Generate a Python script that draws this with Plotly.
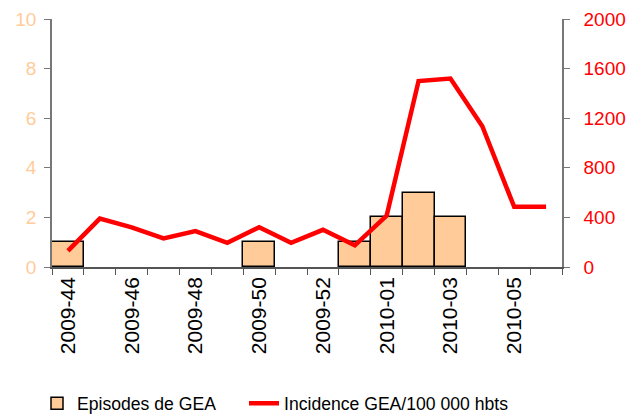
import plotly.graph_objects as go

weeks = ["2009-44", "2009-45", "2009-46", "2009-47", "2009-48", "2009-49", "2009-50",
         "2009-51", "2009-52", "2009-53", "2010-01", "2010-02", "2010-03", "2010-04",
         "2010-05", "2010-06"]
episodes = [1, 0, 0, 0, 0, 0, 1, 0, 0, 1, 2, 3, 2, 0, 0, 0]
incidence = [130, 390, 320, 230, 290, 195, 320, 195, 300, 175, 415, 1500, 1520, 1135, 485, 485]
tick_labels = [w if i % 2 == 0 else "" for i, w in enumerate(weeks)]

FONT = "Liberation Sans, Arial, sans-serif"
bar_line_w = [1.5 if v > 0 else 0 for v in episodes]

fig = go.Figure()
fig.add_trace(go.Bar(
    x=weeks, y=episodes, name="Episodes de GEA",
    marker=dict(color="#FFCC99", line=dict(color="black", width=bar_line_w)),
    yaxis="y", legend="legend",
))
fig.add_trace(go.Scatter(
    x=weeks, y=incidence, name="Incidence GEA/100 000 hbts",
    mode="lines", line=dict(color="#FF0000", width=4.5),
    yaxis="y2", legend="legend2",
))

legend_common = dict(
    orientation="h", xref="container", yref="container",
    y=0.069, xanchor="left", yanchor="top",
    font=dict(size=17.6, color="black"),
    bgcolor="rgba(0,0,0,0)",
)

fig.update_layout(
    width=640, height=414,
    margin=dict(l=52, r=78, t=19, b=147, autoexpand=False),
    paper_bgcolor="white", plot_bgcolor="white",
    font=dict(family=FONT, color="black"),
    bargap=0,
    showlegend=True,
    legend=dict(x=37 / 640, **legend_common),
    legend2=dict(x=244 / 640, **legend_common),
    xaxis=dict(
        type="category", tickmode="array", tickvals=weeks, ticktext=tick_labels,
        tickson="boundaries", ticks="outside", ticklen=6, tickcolor="#555",
        tickangle=-90, tickfont=dict(size=21, color="black"),
        showline=True, linecolor="#555", linewidth=1.5,
        showgrid=False, zeroline=False, automargin=False,
    ),
    yaxis=dict(
        range=[0, 10], dtick=2, tickmode="linear", tick0=0,
        ticks="outside", ticklen=6, tickcolor="#777",
        tickfont=dict(size=19, color="#FFCC99"),
        showline=True, linecolor="#777", linewidth=1.5,
        showgrid=False, zeroline=False, ticklabelstandoff=4, automargin=False,
    ),
    yaxis2=dict(
        range=[0, 2000], dtick=400, tickmode="linear", tick0=0,
        overlaying="y", side="right",
        ticks="outside", ticklen=6, tickcolor="#777",
        tickfont=dict(size=19, color="#FF0000"),
        showline=True, linecolor="#777", linewidth=1.5,
        showgrid=False, zeroline=False, ticklabelstandoff=10, automargin=False,
    ),
)

fig.write_html("out.html", config={"displayModeBar": False},
               post_script="document.body.style.margin='0';")
